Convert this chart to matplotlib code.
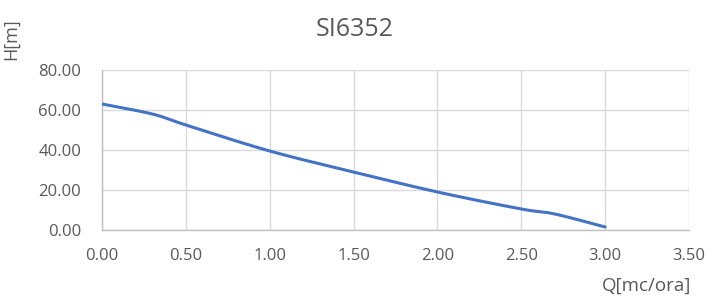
import numpy as np
import matplotlib
matplotlib.use("Agg")
import matplotlib.pyplot as plt

Q = [0.0, 0.3, 0.5, 1.0, 1.5, 2.0, 2.5, 2.7, 3.0]
H = [63.0, 58.0, 52.5, 39.5, 29.0, 19.0, 10.5, 8.0, 1.5]
xticks = [0.0, 0.5, 1.0, 1.5, 2.0, 2.5, 3.0, 3.5]
yticks = [0, 20, 40, 60, 80]
title = "SI6352"
xlabel = "Q[mc/ora]"
ylabel = "H[m]"


def smooth(x, y, n=30):
    x = np.asarray(x, float); y = np.asarray(y, float)
    px = np.concatenate([[2 * x[0] - x[1]], x, [2 * x[-1] - x[-2]]])
    py = np.concatenate([[2 * y[0] - y[1]], y, [2 * y[-1] - y[-2]]])
    xs, ys = [], []
    for i in range(1, len(px) - 2):
        t = np.linspace(0, 1, n, endpoint=(i == len(px) - 3))
        p0, p1, p2, p3 = [np.array([px[j], py[j]]) for j in (i - 1, i, i + 1, i + 2)]
        c1 = p1 + (p2 - p0) / 6
        c2 = p2 - (p3 - p1) / 6
        tt = t[:, None]
        pts = ((1 - tt) ** 3) * p1 + 3 * ((1 - tt) ** 2) * tt * c1 + 3 * (1 - tt) * tt ** 2 * c2 + tt ** 3 * p2
        xs.extend(pts[:, 0]); ys.extend(pts[:, 1])
    return np.array(xs), np.array(ys)


plt.rcParams['font.family'] = ['Open Sans', 'DejaVu Sans']
fig = plt.figure(figsize=(7.27, 3.06), dpi=100)
ax = fig.add_axes([102 / 727, 1 - 230 / 306, (689 - 102) / 727, 160 / 306])

sx, sy = smooth(Q, H)
ax.plot(sx, sy, color='#4472c4', lw=2.2, solid_capstyle='round', zorder=3)

ax.set_xlim(0, 3.5)
ax.set_ylim(0, 80)
ax.set_xticks(xticks)
ax.set_yticks(yticks)
ax.set_xticklabels([f"{v:.2f}" for v in xticks])
ax.set_yticklabels([f"{v:.2f}" for v in yticks])
ax.grid(True, color='#d9d9d9', lw=1.0)
ax.set_axisbelow(True)
for s in ['top', 'right']:
    ax.spines[s].set_visible(False)
for s in ['left', 'bottom']:
    ax.spines[s].set_color('#bfbfbf')
    ax.spines[s].set_linewidth(1.0)
ax.tick_params(length=0, labelsize=12, labelcolor='#595959')
ax.tick_params(axis='y', pad=15)
ax.tick_params(axis='x', pad=13)

fig.text(355 / 727, 1 - 30 / 306, title, ha='center', va='center', fontsize=18, color='#595959')
fig.text(11 / 727, 1 - 39 / 306, ylabel, ha='center', va='center', rotation=90, fontsize=13, color='#595959')
fig.text(647 / 727, 1 - 286 / 306, xlabel, ha='center', va='center', fontsize=13.5, color='#595959')

fig.savefig('out.png', dpi=100)
